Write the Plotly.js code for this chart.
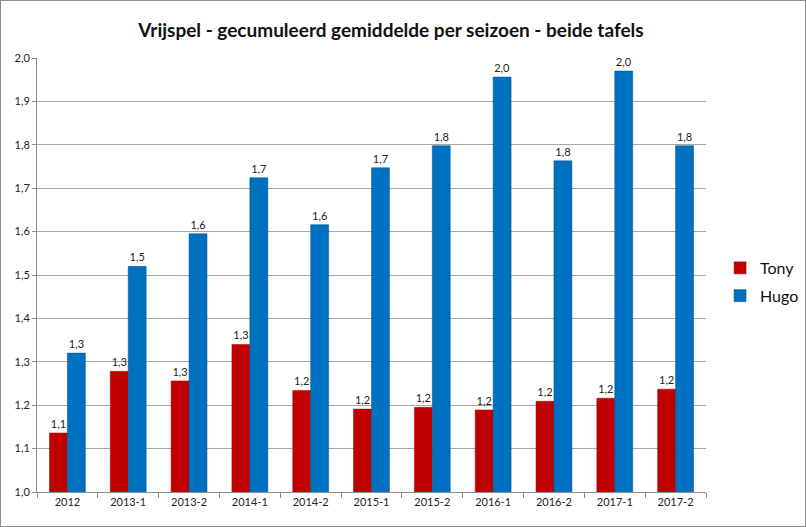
<!DOCTYPE html>
<html><head><meta charset="utf-8">
<script src="https://cdn.plot.ly/plotly-3.0.1.min.js"></script>
<style>
html,body{margin:0;padding:0;background:#fff;}
#chart{width:806px;height:527px;box-sizing:border-box;border:1px solid #8c8c8c;}
</style></head>
<body><div id="chart"></div>
<script>
const categories = ["2012","2013-1","2013-2","2014-1","2014-2","2015-1","2015-2","2016-1","2016-2","2017-1","2017-2"];
const tony = [1.136,1.278,1.256,1.340,1.234,1.191,1.195,1.189,1.209,1.216,1.237];
const hugo = [1.320,1.520,1.595,1.724,1.616,1.747,1.798,1.956,1.763,1.970,1.798];
const yTicks = [1.0,1.1,1.2,1.3,1.4,1.5,1.6,1.7,1.8,1.9,2.0];

const labelFont = {family:"Lato, 'Liberation Sans', sans-serif", size:11, color:"#222"};
const traces = [
  {type:"bar", name:"Tony", legendgroup:"t", x:categories, y:tony, marker:{color:"#C00000", line:{color:"#A00000",width:0.5}},
   texttemplate:"%{y:.1f}", textposition:"outside", textfont:labelFont, cliponaxis:false, hoverinfo:"skip"},
  {type:"bar", name:"Hugo", legendgroup:"h", x:categories, y:hugo, marker:{color:"#0070C0", line:{color:"#004F88",width:0.5}},
   texttemplate:"%{y:.1f}", textposition:"outside", textfont:labelFont, cliponaxis:false, hoverinfo:"skip"}
];

const layout = {
  width:804, height:525,
  separators:",.",
  paper_bgcolor:"#ffffff", plot_bgcolor:"#ffffff",
  margin:{l:36, r:99, t:57, b:34, autoexpand:false},
  barmode:"group", bargap:0.41, bargroupgap:0,
  title:{text:"Vrijspel - gecumuleerd gemiddelde per seizoen - beide tafels",
         font:{family:"Lato, 'Open Sans', sans-serif", size:19, color:"#111", weight:"bold"},
         x:0.485, xanchor:"center", y:0.945, yanchor:"middle"},
  xaxis:{type:"category", showgrid:false, showline:true, linecolor:"#8c8c8c", linewidth:1,
         ticks:"outside", tickson:"boundaries", ticklen:5, tickcolor:"#8c8c8c",
         tickfont:{family:"Lato, 'Liberation Sans', sans-serif", size:11, color:"#222"}},
  yaxis:{range:[1.0,2.0], tickvals:yTicks, tickformat:".1f", showgrid:true, gridcolor:"#a6a6a6", gridwidth:1,
         showline:true, linecolor:"#8c8c8c", linewidth:1, ticks:"outside", ticklen:4, tickcolor:"#8c8c8c",
         zeroline:false,
         tickfont:{family:"Lato, 'Liberation Sans', sans-serif", size:11, color:"#222"}},
  legend:{x:1.021, xanchor:"left", y:0.484, yanchor:"middle", traceorder:"grouped",
          font:{family:"Lato, 'Liberation Sans', sans-serif", size:16, color:"#111"},
          itemwidth:30, tracegroupgap:4},
  showlegend:true
};
Plotly.newPlot("chart", traces, layout, {displayModeBar:false, staticPlot:true});
</script></body></html>
